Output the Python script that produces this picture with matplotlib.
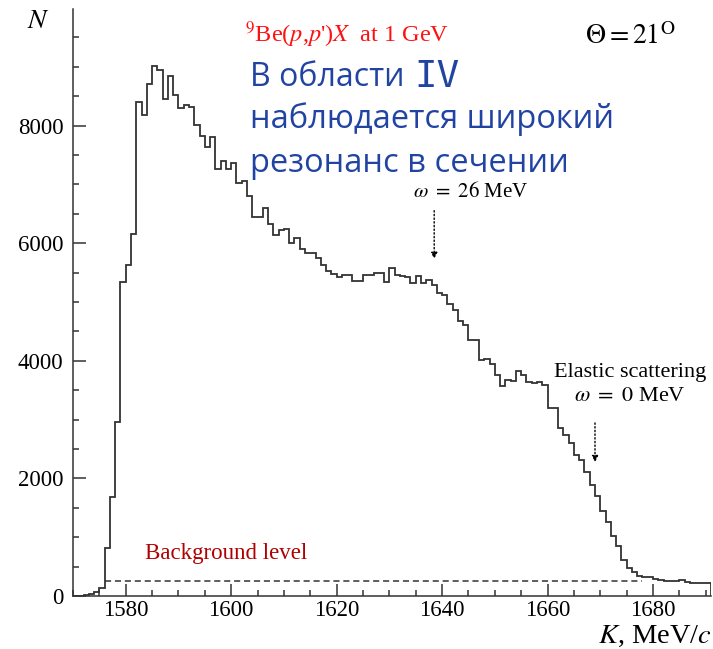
import numpy as np
import matplotlib
matplotlib.use("Agg")
import matplotlib.pyplot as plt
from matplotlib.ticker import MultipleLocator

# histogram of 9Be(p,p')X spectrum, 1 MeV/c bins starting at 1570
k_start = 1570
counts = [
    0, 0, 20, 30, 60, 140, 820, 1690, 2960, 5340,            # 1570-1579
    5634, 6162, 8403, 8187, 8700, 9010, 8941, 8450, 8840, 8520,  # 1580-1589
    8300, 8357, 8318, 8010, 7818, 7640, 7800, 7263, 7400, 7263,  # 1590-1599
    7365, 7020, 7058, 6800, 6440, 6440, 6590, 6320, 6140, 6225,  # 1600-1609
    6240, 6003, 6088, 5901, 5833, 5833, 5748, 5634, 5520, 5481,  # 1610-1619
    5424, 5464, 5464, 5362, 5362, 5464, 5464, 5492, 5492, 5339,  # 1620-1629
    5577, 5464, 5447, 5418, 5322, 5447, 5330, 5370, 5280, 5152,  # 1630-1639
    5110, 4960, 4860, 4670, 4600, 4346, 4357, 4017, 4034, 3950,  # 1640-1649
    3760, 3575, 3676, 3648, 3818, 3762, 3640, 3615, 3640, 3591,  # 1650-1659
    3195, 3195, 2851, 2740, 2598, 2400, 2315, 2116, 1890, 1702,  # 1660-1669
    1452, 1254, 1027, 857, 613, 471, 414, 340, 318, 329,         # 1670-1679
    284, 272, 255, 260, 255, 272, 244, 227, 227, 220,            # 1680-1689
    220,                                                         # 1690
]
background = 260
background_range = [1576, 1678]

omega26 = (1638.5, 5685, 6600)   # K, arrow tip, arrow tail
omega0 = (1669, 2230, 2990)

plt.rcParams['mathtext.fontset'] = 'stix'
serif = 'Liberation Serif'

fig = plt.figure(figsize=(7.13, 6.49), dpi=100)
ax = fig.add_axes([73 / 713, 1 - 596 / 649, (711 - 73) / 713, (596 - 8.5) / 649])

edges = k_start + np.arange(len(counts) + 1)
ax.stairs(counts, edges, baseline=0, color='#333333', lw=1.3)

ax.plot(background_range, [background, background], ls=(0, (4, 2.5)), color='#333333', lw=1.1)

ax.set_xlim(1570, 1691)
ax.set_ylim(0, 9990)
ax.xaxis.set_major_locator(MultipleLocator(20))
ax.xaxis.set_minor_locator(MultipleLocator(5))
ax.yaxis.set_major_locator(MultipleLocator(2000))
ax.yaxis.set_minor_locator(MultipleLocator(500))
ax.tick_params(which='both', direction='in', width=1.1, color='#333333')
ax.tick_params(which='major', length=9)
ax.tick_params(which='minor', length=4.5)
ax.tick_params(axis='y', pad=7)
ax.tick_params(axis='x', pad=3)
for lab in ax.get_xticklabels() + ax.get_yticklabels():
    lab.set_fontfamily(serif)
    lab.set_fontsize(16.5)
ax.spines['top'].set_visible(False)
ax.spines['right'].set_visible(False)
for s in ('left', 'bottom'):
    ax.spines[s].set_linewidth(1.1)
    ax.spines[s].set_color('#333333')

# axis titles
fig.text(38 / 713, 1 - 20 / 649, '$N$', fontsize=20, ha='center', va='center')
fig.text(712 / 713, 1 - 636 / 649, '$K$, MeV/$c$', fontsize=20.5, ha='right', va='center',
         family=serif)

# header texts
fig.text(245 / 713, 1 - 35 / 649, r"$^{9}$Be($p$,$p$')$X$  at 1 GeV", color='#ff1010',
         fontsize=17.5, family=serif, ha='left', va='center')
fig.text(585 / 713, 1 - 36 / 649, r"$\Theta = 21^{\mathrm{O}}$", fontsize=20,
         ha='left', va='center')

blue = '#2144a3'
fig.text(250 / 713, 1 - 77 / 649, 'В области', color=blue, fontsize=23,
         family='Open Sans', ha='left', va='center')
fig.text(414 / 713, 1 - 77 / 649, 'IV', color=blue, fontsize=27,
         family='DejaVu Sans Mono', ha='left', va='center')
fig.text(250 / 713, 1 - 119 / 649, 'наблюдается широкий', color=blue, fontsize=23.5,
         family='Open Sans', ha='left', va='center')
fig.text(250 / 713, 1 - 163 / 649, 'резонанс в сечении', color=blue, fontsize=23.5,
         family='Open Sans', ha='left', va='center')

# annotations
ax.text(omega26[0] + 7, 6870, r'$\omega\ =\ 26$ MeV', fontsize=15, family=serif,
        ha='center', va='center')
ax.annotate('', xy=(omega26[0], omega26[1]), xytext=(omega26[0], omega26[2]),
            arrowprops=dict(arrowstyle='-|>', ls=':', color='k', lw=1, mutation_scale=9))

ax.text(1675.7, 3800, 'Elastic scattering', fontsize=16, family=serif, ha='center', va='center')
ax.text(1675.7, 3390, r'$\omega\ =\ 0$ MeV', fontsize=16, family=serif, ha='center', va='center')
ax.annotate('', xy=(omega0[0], omega0[1]), xytext=(omega0[0], omega0[2]),
            arrowprops=dict(arrowstyle='-|>', ls=':', color='k', lw=1, mutation_scale=9))

ax.text(1583.6, 730, 'Background level', color='#b00000', fontsize=16.5, family=serif,
        ha='left', va='center')

fig.savefig('out.png', dpi=100)
